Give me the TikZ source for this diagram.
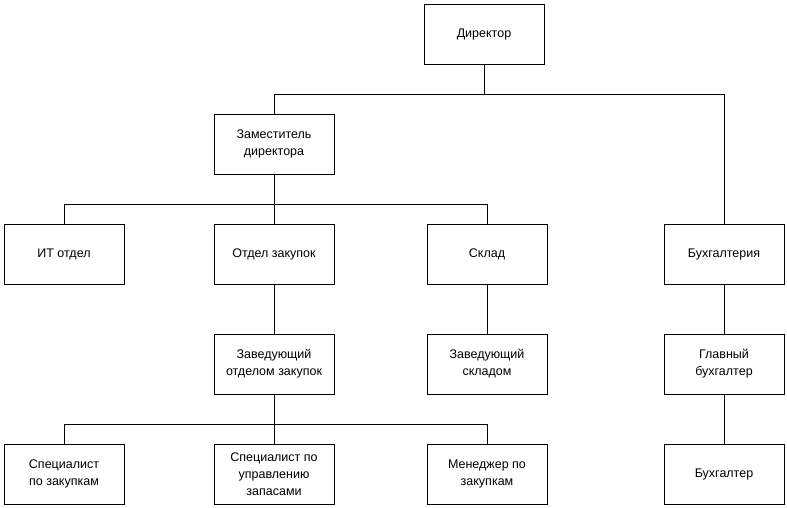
\documentclass[tikz,border=0pt]{standalone}
\usepackage{fontspec}
\setmainfont{Liberation Sans}
\begin{document}
\begin{tikzpicture}[x=1pt,y=-1pt,
  box/.style={draw=black,line width=1pt,minimum width=120pt,minimum height=60pt,inner sep=0pt,align=center,font=\fontsize{12.5}{17}\selectfont},
  conn/.style={draw=black,line width=1pt}]
\useasboundingbox[fill=white] (0,0) rectangle (787,507);
\node[box] (dir) at (484,34) {Директор};
\node[box] (zam) at (274,144) {Заместитель\\директора};
\node[box] (it) at (64,254) {ИТ отдел};
\node[box] (zak) at (274,254) {Отдел закупок};
\node[box] (skl) at (487,254) {Склад};
\node[box] (buh) at (724,254) {Бухгалтерия};
\node[box] (zavz) at (274,364) {Заведующий\\отделом закупок};
\node[box] (zavs) at (487,364) {Заведующий\\складом};
\node[box] (glb) at (724,364) {Главный\\бухгалтер};
\node[box] (spz) at (64,474) {Специалист\\по закупкам};
\node[box] (spu) at (274,474) {Специалист по\\управлению\\запасами};
\node[box] (men) at (487,474) {Менеджер по\\закупкам};
\node[box] (bh) at (724,474) {Бухгалтер};
\coordinate (j1) at (484,94);
\coordinate (j2) at (274,204);
\coordinate (j3) at (274,424);
\draw[conn] (dir.south) -- (j1);
\draw[conn] (j1) -| (zam.north);
\draw[conn] (j1) -| (buh.north);
\draw[conn] (zam.south) -- (j2);
\draw[conn] (j2) -| (it.north);
\draw[conn] (j2) -- (zak.north);
\draw[conn] (j2) -| (skl.north);
\draw[conn] (zak.south) -- (zavz.north);
\draw[conn] (skl.south) -- (zavs.north);
\draw[conn] (buh.south) -- (glb.north);
\draw[conn] (glb.south) -- (bh.north);
\draw[conn] (zavz.south) -- (j3);
\draw[conn] (j3) -| (spz.north);
\draw[conn] (j3) -- (spu.north);
\draw[conn] (j3) -| (men.north);
\end{tikzpicture}
\end{document}
